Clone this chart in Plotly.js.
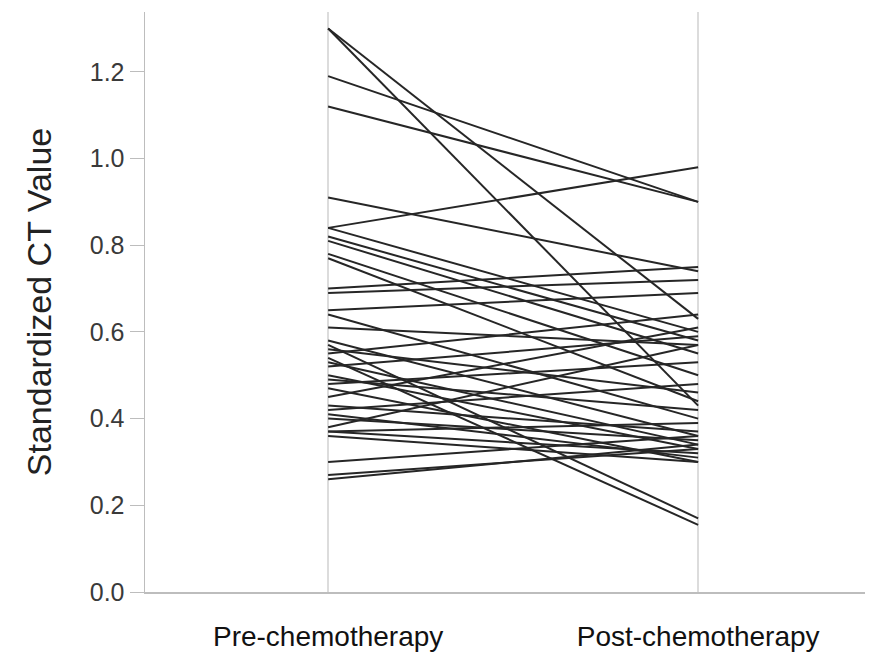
<!DOCTYPE html>
<html>
<head>
<meta charset="utf-8">
<script src="https://cdn.plot.ly/plotly-3.0.1.min.js"></script>
<style>html,body{margin:0;padding:0;background:#fff;}#chart{width:869px;height:656px;}</style>
</head>
<body>
<div id="chart"></div>
<script>
const categories = ["Pre-chemotherapy", "Post-chemotherapy"];
const preValues = [1.30, 1.30, 1.19, 1.12, 0.91, 0.84, 0.84, 0.82, 0.81, 0.78, 0.77, 0.70, 0.69, 0.65, 0.64, 0.61, 0.58, 0.57, 0.56, 0.55, 0.54, 0.53, 0.52, 0.50, 0.49, 0.48, 0.47, 0.45, 0.43, 0.42, 0.41, 0.40, 0.38, 0.37, 0.37, 0.36, 0.30, 0.27, 0.26];
const postValues = [0.43, 0.63, 0.90, 0.90, 0.74, 0.98, 0.60, 0.58, 0.55, 0.50, 0.44, 0.75, 0.72, 0.69, 0.40, 0.57, 0.36, 0.17, 0.46, 0.64, 0.155, 0.34, 0.59, 0.33, 0.42, 0.53, 0.30, 0.61, 0.37, 0.48, 0.31, 0.35, 0.57, 0.32, 0.39, 0.30, 0.36, 0.33, 0.34];
const yTicks = [0.0, 0.2, 0.4, 0.6, 0.8, 1.0, 1.2];
const yTickText = ["0.0", "0.2", "0.4", "0.6", "0.8", "1.0", "1.2"];

const traces = preValues.map((v, i) => ({
  type: "scatter",
  mode: "lines",
  x: [0, 1],
  y: [v, postValues[i]],
  line: {color: "#262626", width: 2},
  hoverinfo: "skip",
  showlegend: false
}));

const layout = {
  width: 869,
  height: 656,
  margin: {l: 145, r: 4, t: 12, b: 64},
  paper_bgcolor: "#fff",
  plot_bgcolor: "#fff",
  font: {family: "Liberation Sans, Arial, sans-serif", color: "#222"},
  xaxis: {
    range: [-0.495, 1.451],
    tickvals: [0, 1],
    ticktext: categories,
    showgrid: true,
    gridcolor: "#dcdcdc",
    gridwidth: 1.5,
    zeroline: false,
    showline: true,
    linecolor: "#bdbdbd",
    linewidth: 1.5,
    ticks: "outside",
    ticklen: 19,
    tickcolor: "rgba(0,0,0,0)",
    tickfont: {size: 28, color: "#111"},
    fixedrange: true
  },
  yaxis: {
    range: [0, 1.338],
    tickvals: yTicks,
    ticktext: yTickText,
    showgrid: false,
    zeroline: false,
    showline: true,
    linecolor: "#bdbdbd",
    linewidth: 1.5,
    ticks: "outside",
    ticklen: 14,
    tickwidth: 1,
    tickcolor: "#bdbdbd",
    tickfont: {size: 25, color: "#3a3a3a"},
    title: {text: "Standardized CT Value", font: {size: 34, color: "#222"}, standoff: 28},
    automargin: false,
    fixedrange: true
  }
};

Plotly.newPlot("chart", traces, layout, {displayModeBar: false, staticPlot: true});
</script>
</body>
</html>
